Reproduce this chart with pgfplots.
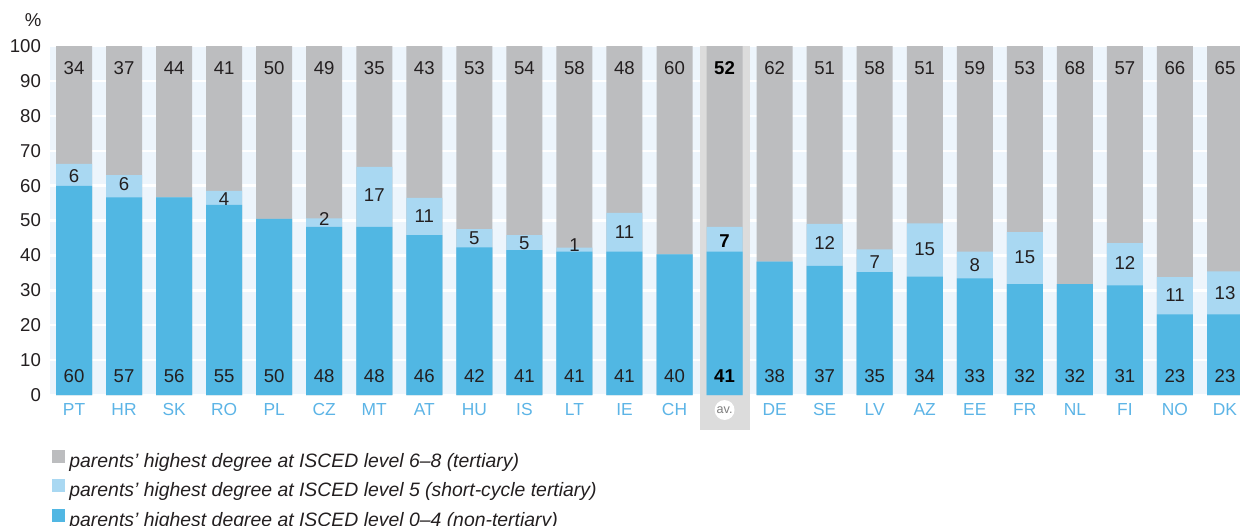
\documentclass[border=0pt]{standalone}
\usepackage{pgfplots}
\pgfplotsset{compat=1.18}
\usepackage{pgfplotstable}
\usepackage{fontspec}
\setmainfont{Liberation Sans}
\definecolor{bgblue}{HTML}{EDF5FC}
\definecolor{greybar}{HTML}{BCBDBF}
\definecolor{lightbar}{HTML}{A9D8F2}
\definecolor{bluebar}{HTML}{51B7E3}
\definecolor{band}{HTML}{DCDCDC}
\definecolor{xtickcol}{HTML}{5CB4E6}
\definecolor{labcol}{HTML}{231F20}

\pgfplotstableread{
x hi lo cum
0 100 59.9 66.2
1 100 56.6 63.0
2 100 56.6 56.6
3 100 54.5 58.5
4 100 50.5 50.5
5 100 48.2 50.6
6 100 48.2 65.4
7 100 45.8 56.5
8 100 42.3 47.5
9 100 41.5 45.8
10 100 41.1 42.2
11 100 41.1 52.2
12 100 40.3 40.3
13 100 41.1 48.2
14 100 38.2 38.2
15 100 37.0 49.0
16 100 35.2 41.7
17 100 33.9 49.2
18 100 33.4 41.1
19 100 31.8 46.7
20 100 31.8 31.8
21 100 31.4 43.5
22 100 23.1 33.8
23 100 23.1 35.4
}\bars

\pgfplotstableread{
x y t
0 93.6 34
1 93.6 37
2 93.6 44
3 93.6 41
4 93.6 50
5 93.6 49
6 93.6 35
7 93.6 43
8 93.6 53
9 93.6 54
10 93.6 58
11 93.6 48
12 93.6 60
14 93.6 62
15 93.6 51
16 93.6 58
17 93.6 51
18 93.6 59
19 93.6 53
20 93.6 68
21 93.6 57
22 93.6 66
23 93.6 65
0 5.5 60
1 5.5 57
2 5.5 56
3 5.5 55
4 5.5 50
5 5.5 48
6 5.5 48
7 5.5 46
8 5.5 42
9 5.5 41
10 5.5 41
11 5.5 41
12 5.5 40
14 5.5 38
15 5.5 37
16 5.5 35
17 5.5 34
18 5.5 33
19 5.5 32
20 5.5 32
21 5.5 31
22 5.5 23
23 5.5 23
0 62.6 6
1 60.4 6
3 56.2 4
5 50.3 2
6 57.2 17
7 51.4 11
8 45.0 5
9 43.5 5
10 42.9 1
11 46.6 11
15 43.5 12
16 38.0 7
17 41.7 15
18 37.2 8
19 39.4 15
21 37.7 12
22 28.5 11
23 29.1 13
}\labels

\pgfplotstableread{
x y t
13 93.6 52
13 44.2 7
13 5.5 41
}\avlabels

\begin{document}
\begin{tikzpicture}
\useasboundingbox (-25pt,-65pt) rectangle (595pt,197.5pt);
\begin{axis}[
  at={(0,0)}, anchor=south west,
  scale only axis, width=595pt, height=174.5pt,
  xmin=-0.48, xmax=23.3, ymin=0, ymax=100,
  clip=false,
  axis background/.style={fill=bgblue},
  axis line style={draw=none},
  major tick length=0pt,
  ytick={0,10,...,100},
  ymajorgrids, grid style={white, line width=1.2pt},
  xtick={0,...,23},
  xticklabels={PT,HR,SK,RO,PL,CZ,MT,AT,HU,IS,LT,IE,CH,{},DE,SE,LV,AZ,EE,FR,NL,FI,NO,DK},
  xticklabel style={font=\fontsize{8.7}{10}\selectfont, text=xtickcol, anchor=center, yshift=-7.5pt},
  yticklabel style={font=\fontsize{9.3}{10}\selectfont, text=labcol, xshift=-1pt},
  /pgf/number format/assume math mode=true,
  legend style={at={(axis description cs:0,0)}, anchor=north west, yshift=-25pt, xshift=-2pt,
    draw=none, fill=none, row sep=2.2pt, font=\itshape\fontsize{9.7}{11}\selectfont, text=labcol},
  legend cell align=left,
  legend image code/.code={\fill[#1] (0pt,-0.5pt) rectangle (6.5pt,6pt);},
]
\fill[band] (axis cs:12.51,100) rectangle (axis cs:13.5,-10);
\addplot[ybar, bar width=18pt, bar shift=0pt, fill=greybar, draw=none] table[x=x, y=hi] {\bars};
\addlegendentry{parents’ highest degree at ISCED level 6–8 (tertiary)}
\addplot[ybar, bar width=18pt, bar shift=0pt, fill=lightbar, draw=none] table[x=x, y=cum] {\bars};
\addlegendentry{parents’ highest degree at ISCED level 5 (short-cycle tertiary)}
\addplot[ybar, bar width=18pt, bar shift=0pt, fill=bluebar, draw=none] table[x=x, y=lo] {\bars};
\addlegendentry{parents’ highest degree at ISCED level 0–4 (non-tertiary)}
\addplot[forget plot, draw=none, mark=none, nodes near coords, point meta=explicit symbolic,
  nodes near coords style={anchor=center, font=\fontsize{9.3}{10}\selectfont, text=labcol}]
  table[x=x, y=y, meta=t] {\labels};
\addplot[forget plot, draw=none, mark=none, nodes near coords, point meta=explicit symbolic,
  nodes near coords style={anchor=center, font=\bfseries\fontsize{9.3}{10}\selectfont, text=black}]
  table[x=x, y=y, meta=t] {\avlabels};
\node[circle, fill=white, inner sep=0.5pt, minimum size=9.5pt, font=\fontsize{6.3}{7}\selectfont, text=gray] at (axis cs:13,-4.3) {av.};
\node[anchor=east, font=\fontsize{9.3}{10}\selectfont, text=labcol] at (axis cs:-0.48,107.4) [xshift=-0.8pt] {\%};
\end{axis}
\end{tikzpicture}
\end{document}
